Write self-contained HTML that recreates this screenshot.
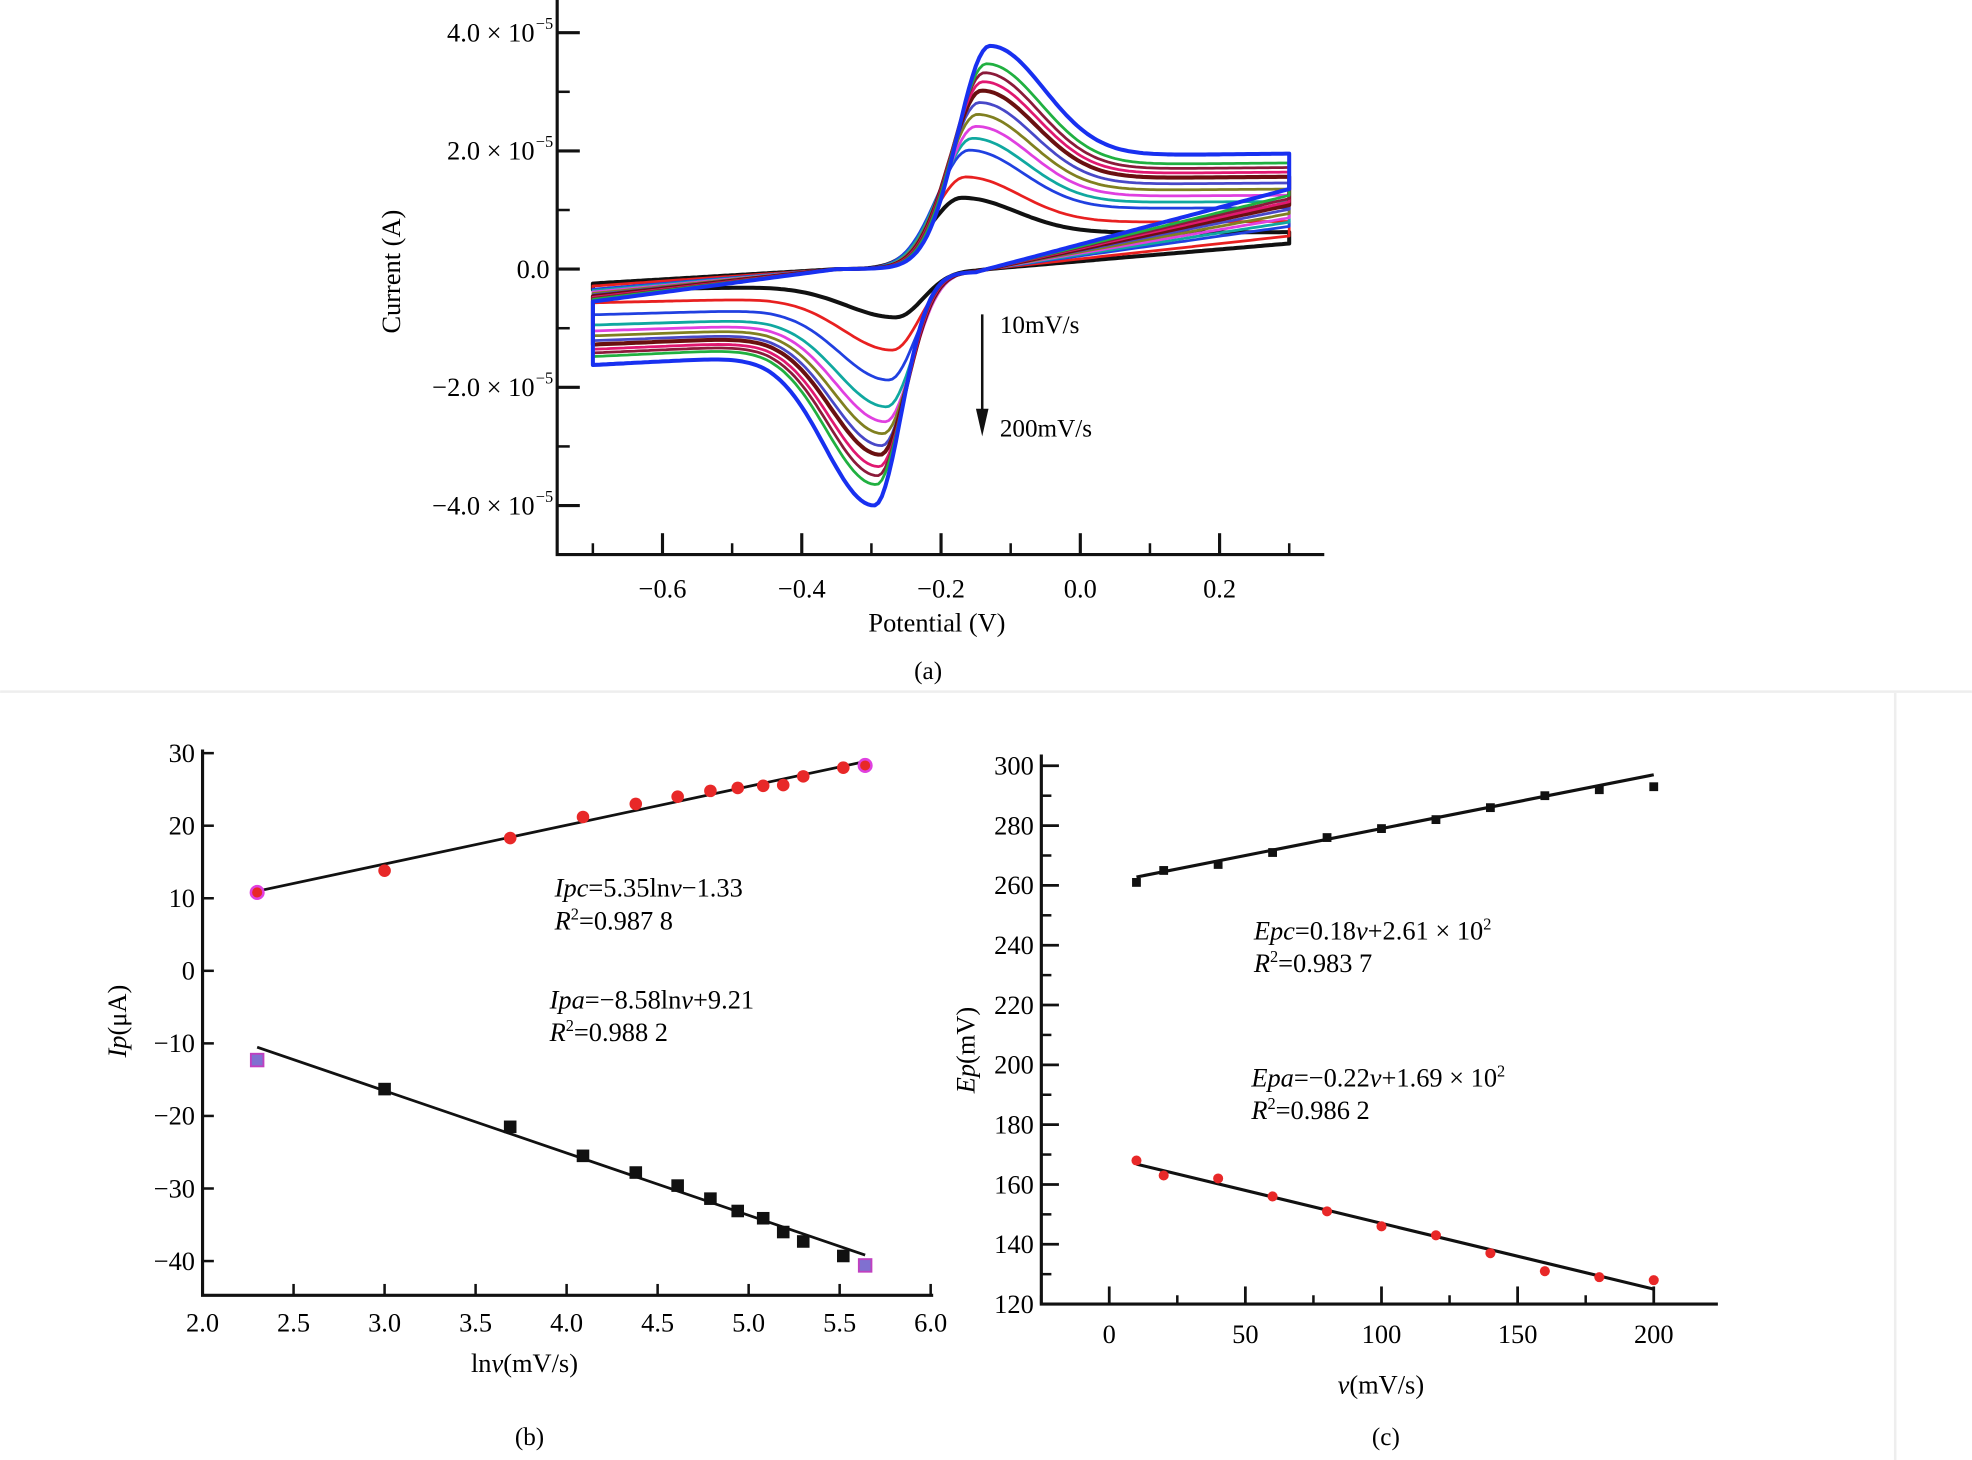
<!DOCTYPE html>
<html><head><meta charset="utf-8"><style>
html,body{margin:0;padding:0;background:#fff}
svg{display:block;font-family:"Liberation Serif",serif}
</style></head><body>
<svg id="fig" width="1972" height="1460" viewBox="0 0 1568 1161" xmlns="http://www.w3.org/2000/svg">
<rect x="0" y="0" width="1568" height="1161" fill="#fff"/>
<line x1="0" y1="550" x2="1568" y2="550" stroke="#eee" stroke-width="2"/>
<line x1="1507" y1="551" x2="1507" y2="1161" stroke="#eee" stroke-width="2"/>
<g id="pa"></g>
<g id="pb"></g>
<g id="pc"></g>
</svg>
<script>
// ---------- Panel (a) data ----------
const scanRates = [10,20,40,60,80,100,120,140,160,180,200,220];
const anodicPeaks = [1.2,1.55,2.0,2.2,2.4,2.6,2.8,3.0,3.15,3.3,3.45,3.75];      // x1e-5 A
const cathodicPeaks = [0.8,1.35,1.85,2.3,2.55,2.75,2.95,3.1,3.3,3.45,3.6,3.95]; // x1e-5 A (magnitude)
const anodicPotentials = [-0.17,-0.165,-0.16,-0.155,-0.15,-0.148,-0.145,-0.142,-0.14,-0.138,-0.135,-0.13];
const cathodicPotentials = [-0.265,-0.27,-0.275,-0.278,-0.28,-0.283,-0.285,-0.287,-0.289,-0.291,-0.293,-0.296];
const curveColors = ["#111","#e82020","#2040e0","#10a8a0","#e040e0","#808020","#4848c8","#6a1010","#e01870","#8b1a3a","#20b040","#1830f0"];
const aXTicks = [-0.6,-0.4,-0.2,0.0,0.2];
const aXTickLabels = ["\u22120.6","\u22120.4","\u22120.2","0.0","0.2"];
const aYTicks = [4,2,0,-2,-4];
const aYTickLabels = ["4.0 \u00d7 10","2.0 \u00d7 10","0.0","\u22122.0 \u00d7 10","\u22124.0 \u00d7 10"];

// ---------- Panel (b) data ----------
const lnv = [2.30,3.00,3.69,4.09,4.38,4.61,4.79,4.94,5.08,5.19,5.30,5.52,5.64];
const ipcVals = [10.8,13.8,18.3,21.2,23.0,24.0,24.8,25.2,25.5,25.6,26.8,28.0,28.3];
const ipaVals = [-12.3,-16.3,-21.5,-25.5,-27.8,-29.6,-31.4,-33.1,-34.1,-36.0,-37.3,-39.3,-40.6];
const bXTicks = [2.0,2.5,3.0,3.5,4.0,4.5,5.0,5.5,6.0];
const bYTicks = [30,20,10,0,-10,-20,-30,-40];
const bFitC = [5.35,-1.33];
const bFitA = [-8.58,9.21];

// ---------- Panel (c) data ----------
const vRates = [10,20,40,60,80,100,120,140,160,180,200];
const epcVals = [261,265,267,271,276,279,282,286,290,292,293];
const epaVals = [168,163,162,156,151,146,143,137,131,129,128];
const cXTicks = [0,50,100,150,200];
const cYTicks = [300,280,260,240,220,200,180,160,140,120];
const cFitC = [0.18,261];
const cFitA = [-0.22,169];

const NS="http://www.w3.org/2000/svg";
function mk(parent,tag,attrs,text){const e=document.createElementNS(NS,tag);for(const k in attrs)e.setAttribute(k,attrs[k]);if(text!==undefined)e.textContent=text;parent.appendChild(e);return e;}

// ===== Panel a =====
const pa=document.getElementById('pa');
const xA=E=>859+E*553.75, yA=i=>214-i*47;
for(let c=0;c<anodicPeaks.length;c++){
  const ipa=anodicPeaks[c], ipc=cathodicPeaks[c], k=ipa/3.75;
  const Ea=anodicPotentials[c], Ec=cathodicPotentials[c];
  let d="";
  for(let E=-0.7;E<=0.3001;E+=0.005){
    const base = E<-0.35 ? (-0.1-0.45*k)*(1-(E+0.7)/0.35) : (E+0.35)*0.12*k;
    const dd=E-Ea;
    const A = ipa*(dd<0?Math.exp(-Math.pow(dd/0.065,2)):0.5+0.5*Math.exp(-Math.pow(dd/0.11,2)));
    d+=(d?"L":"M")+xA(E).toFixed(1)+","+yA(base+A).toFixed(1);
  }
  for(let E=0.3;E>=-0.7001;E-=0.005){
    const t=Math.max(0,Math.min(1,(E+0.15)/0.45));
    const an=ipa*0.5*t*0.75;
    const dd=E-Ec;
    const C=-ipc*(dd>0?Math.exp(-Math.pow(dd/0.055,2)):0.36+0.64*Math.exp(-Math.pow(dd/0.1,2)));
    const tilt=E<-0.45?(E+0.45)*0.6*k:0;
    d+="L"+xA(E).toFixed(1)+","+yA(an+C-0.05*k+tilt).toFixed(1);
  }
  d+="Z";
  const p=mk(pa,'path',{d:d,fill:'none',stroke:curveColors[c],'stroke-width':(c===0||c===7||c===11)?3.2:2.2,'stroke-linejoin':'round'});
  
  
}
let ax=mk(pa,'path',{d:"M443,0V441H1053",fill:'none',stroke:'#111','stroke-width':2.5});

aXTicks.forEach((v,i)=>{
  mk(pa,'line',{x1:xA(v),x2:xA(v),y1:441,y2:424,stroke:'#111','stroke-width':2.5});
  mk(pa,'line',{x1:xA(v+0.1),x2:xA(v+0.1),y1:441,y2:432,stroke:'#111','stroke-width':2});
  const t=mk(pa,'text',{x:xA(v),y:475,'font-size':21,'text-anchor':'middle'},aXTickLabels[i]);
  
});
mk(pa,'line',{x1:xA(-0.7),x2:xA(-0.7),y1:441,y2:432,stroke:'#111','stroke-width':2});
aYTicks.forEach((v,i)=>{
  mk(pa,'line',{x1:443,x2:461,y1:yA(v),y2:yA(v),stroke:'#111','stroke-width':2.5});
  if(v>-4) mk(pa,'line',{x1:443,x2:453,y1:yA(v-1),y2:yA(v-1),stroke:'#111','stroke-width':2});
  const t=mk(pa,'text',{x:v===0?437:425,y:yA(v)+7,'font-size':21,'text-anchor':'end'},aYTickLabels[i]);
  
  if(v!==0){mk(pa,'text',{x:426,y:yA(v)-3,'font-size':13,'text-anchor':'start'},"\u22125");}
});
mk(pa,'line',{x1:443,x2:453,y1:yA(5),y2:yA(5),stroke:'#111','stroke-width':2});
let t;
t=mk(pa,'text',{x:0,y:0,'font-size':21,'text-anchor':'middle',transform:'translate(318,216) rotate(-90)'},'Current (A)');
t=mk(pa,'text',{x:745,y:502,'font-size':21,'text-anchor':'middle'},'Potential (V)');
t=mk(pa,'text',{x:738,y:540,'font-size':20,'text-anchor':'middle'},'(a)');
mk(pa,'line',{x1:781,x2:781,y1:250,y2:330,stroke:'#111','stroke-width':2});
mk(pa,'path',{d:'M776,325L786,325L781,347Z',fill:'#111'});
t=mk(pa,'text',{x:795,y:265,'font-size':20},'10mV/s');
t=mk(pa,'text',{x:795,y:347,'font-size':20},'200mV/s');

// ===== Panel b =====
const pb=document.getElementById('pb');
const xB=v=>161+(v-2)*144.75, yB=v=>772-v*5.77;
ax=mk(pb,'path',{d:"M161,596V1030H742",fill:'none',stroke:'#111','stroke-width':2.5});

bXTicks.forEach(v=>{
  mk(pb,'line',{x1:xB(v),x2:xB(v),y1:1030,y2:1021,stroke:'#111','stroke-width':2});
  const t=mk(pb,'text',{x:xB(v),y:1059,'font-size':21,'text-anchor':'middle'},v.toFixed(1));
  
});
bYTicks.forEach(v=>{
  mk(pb,'line',{x1:161,x2:170,y1:yB(v),y2:yB(v),stroke:'#111','stroke-width':2});
  const t=mk(pb,'text',{x:155,y:yB(v)+7,'font-size':21,'text-anchor':'end'},v<0?"\u2212"+(-v):String(v));
  
});
[[bFitC,'ipc-fit-line'],[bFitA,'ipa-fit-line']].forEach(([f,n])=>{
  const x0=lnv[0],x1=lnv[lnv.length-1];
  const l=mk(pb,'line',{x1:xB(x0),y1:yB(f[0]*x0+f[1]),x2:xB(x1),y2:yB(f[0]*x1+f[1]),stroke:'#111','stroke-width':2.2});
  
});
lnv.forEach((x,i)=>{
  const edge=(i===0||i===lnv.length-1);
  const c=mk(pb,'circle',{cx:xB(x),cy:yB(ipcVals[i]),r:5,fill:'#e82828',stroke:edge?'#e040e0':'none','stroke-width':2});
  
  const s=mk(pb,'rect',{x:xB(x)-5,y:yB(ipaVals[i])-5,width:10,height:10,fill:edge?'#8070d0':'#111',stroke:edge?'#c040c0':'none','stroke-width':1.5});
  
});
function eq(parent,x,y,parts,name){const tx=mk(parent,'text',{x:x,y:y,'font-size':21});parts.forEach(p=>{mk(tx,'tspan',p[1]||{},p[0]);});return tx;}
eq(pb,441,713,[["I",{'font-style':'italic'}],["pc",{'font-style':'italic'}],["=5.35ln"],["v",{'font-style':'italic'}],["\u22121.33"]],'ipc-equation');
eq(pb,441,739,[["R",{'font-style':'italic'}],["2",{'font-size':13,dy:-8}],["=0.987 8",{dy:8}]],'ipc-r2');
eq(pb,437,802,[["Ipa",{'font-style':'italic'}],["=\u22128.58ln"],["v",{'font-style':'italic'}],["+9.21"]],'ipa-equation');
eq(pb,437,828,[["R",{'font-style':'italic'}],["2",{'font-size':13,dy:-8}],["=0.988 2",{dy:8}]],'ipa-r2');
t=mk(pb,'text',{x:0,y:0,'font-size':21,'text-anchor':'middle',transform:'translate(100,812) rotate(-90)'});
mk(t,'tspan',{'font-style':'italic'},'Ip');mk(t,'tspan',{},'(\u03bcA)');
t=mk(pb,'text',{x:417,y:1091,'font-size':21,'text-anchor':'middle'});
mk(t,'tspan',{},'ln');mk(t,'tspan',{'font-style':'italic'},'v');mk(t,'tspan',{},'(mV/s)');
t=mk(pb,'text',{x:421,y:1149,'font-size':20,'text-anchor':'middle'},'(b)');

// ===== Panel c =====
const pc=document.getElementById('pc');
const xC=v=>882+v*2.165, yC=v=>1037-(v-120)*2.378;
ax=mk(pc,'path',{d:"M828,600V1037H1366",fill:'none',stroke:'#111','stroke-width':2.5});

cXTicks.forEach(v=>{
  mk(pc,'line',{x1:xC(v),x2:xC(v),y1:1037,y2:1023,stroke:'#111','stroke-width':2.2});
  if(v<200) mk(pc,'line',{x1:xC(v+25),x2:xC(v+25),y1:1037,y2:1030,stroke:'#111','stroke-width':2});
  const t=mk(pc,'text',{x:xC(v),y:1068,'font-size':21,'text-anchor':'middle'},String(v));
  
});
mk(pc,'line',{x1:xC(-25),x2:xC(-25),y1:1037,y2:1030,stroke:'#111','stroke-width':2});
cYTicks.forEach(v=>{
  mk(pc,'line',{x1:828,x2:842,y1:yC(v),y2:yC(v),stroke:'#111','stroke-width':2.2});
  if(v>120) mk(pc,'line',{x1:828,x2:836,y1:yC(v-10),y2:yC(v-10),stroke:'#111','stroke-width':2});
  const t=mk(pc,'text',{x:822,y:yC(v)+7,'font-size':21,'text-anchor':'end'},String(v));
  
});
[[cFitC,'epc-fit-line'],[cFitA,'epa-fit-line']].forEach(([f,n])=>{
  const x0=vRates[0],x1=vRates[vRates.length-1];
  const l=mk(pc,'line',{x1:xC(x0),y1:yC(f[0]*x0+f[1]),x2:xC(x1),y2:yC(f[0]*x1+f[1]),stroke:'#111','stroke-width':2.5});
  
});
vRates.forEach((v,i)=>{
  const s=mk(pc,'rect',{x:xC(v)-3.5,y:yC(epcVals[i])-3.5,width:7,height:7,fill:'#111'});
  
  const c=mk(pc,'circle',{cx:xC(v),cy:yC(epaVals[i]),r:4,fill:'#e82828'});
  
});
eq(pc,997,747,[["Epc",{'font-style':'italic'}],["=0.18"],["v",{'font-style':'italic'}],["+2.61 \u00d7 10"],["2",{'font-size':13,dy:-8}]],'epc-equation');
eq(pc,997,773,[["R",{'font-style':'italic'}],["2",{'font-size':13,dy:-8}],["=0.983 7",{dy:8}]],'epc-r2');
eq(pc,995,864,[["Epa",{'font-style':'italic'}],["=\u22120.22"],["v",{'font-style':'italic'}],["+1.69 \u00d7 10"],["2",{'font-size':13,dy:-8}]],'epa-equation');
eq(pc,995,890,[["R",{'font-style':'italic'}],["2",{'font-size':13,dy:-8}],["=0.986 2",{dy:8}]],'epa-r2');
t=mk(pc,'text',{x:0,y:0,'font-size':21,'text-anchor':'middle',transform:'translate(775,835) rotate(-90)'});
mk(t,'tspan',{'font-style':'italic'},'Ep');mk(t,'tspan',{},'(mV)');
t=mk(pc,'text',{x:1098,y:1108,'font-size':21,'text-anchor':'middle'});
mk(t,'tspan',{'font-style':'italic'},'v');mk(t,'tspan',{},'(mV/s)');
t=mk(pc,'text',{x:1102,y:1149,'font-size':20,'text-anchor':'middle'},'(c)');
</script>
</body></html>
